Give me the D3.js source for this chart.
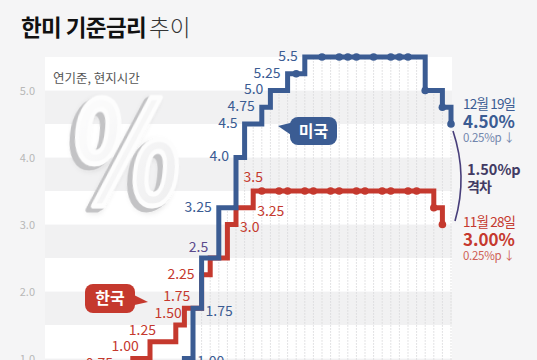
<!DOCTYPE html>
<html><head><meta charset="utf-8">
<script src="https://cdn.jsdelivr.net/npm/d3@7"></script>
<style>
body{margin:0;background:#f5f5f6;}
svg{display:block;}
text{font-family:"Noto Sans CJK KR","Noto Sans",sans-serif;}
</style>
</head><body>
<svg id="c" width="537" height="360"></svg>
<script>
// ---------- data ----------
const titleMain = "한미 기준금리";
const titleTail = "추이";
const noteText = "연기준, 현지시간";
const yTicks = [1.0, 2.0, 3.0, 4.0, 5.0];

// US federal funds rate (upper bound), decisions by month
const usDates = ["2021-01","2022-03","2022-05","2022-06","2022-07","2022-09","2022-11","2022-12",
                 "2023-02","2023-03","2023-05","2023-06","2023-07","2023-09","2023-11","2023-12",
                 "2024-01","2024-03","2024-05","2024-06","2024-07","2024-09","2024-11","2024-12"];
const usRates = [0.25,0.5,1.0,1.75,2.5,3.25,4.0,4.5,
                 4.75,5.0,5.25,5.25,5.5,5.5,5.5,5.5,
                 5.5,5.5,5.5,5.5,5.5,5.0,4.75,4.5];
// Korea base rate, decisions by month
const krDates = ["2021-01","2021-08","2021-11","2022-01","2022-04","2022-05","2022-07","2022-08","2022-10","2022-11",
                 "2023-01","2023-02","2023-04","2023-05","2023-07","2023-08","2023-10","2023-11",
                 "2024-01","2024-02","2024-04","2024-05","2024-07","2024-08","2024-10","2024-11"];
const krRates = [0.5,0.75,1.0,1.25,1.5,1.75,2.25,2.5,3.0,3.25,
                 3.5,3.5,3.5,3.5,3.5,3.5,3.5,3.5,
                 3.5,3.5,3.5,3.5,3.5,3.5,3.25,3.0];

const usStepLabels = ["1.00","1.75","3.25","4.0","4.5","4.75","5.0","5.25","5.5"];
const krStepLabels = ["0.75","1.00","1.25","1.50","1.75","2.25","3.0","3.25","3.5"];
const sharedLabel = "2.5";

const usLatest = {date:"12월 19일", rate:"4.50%", change:"0.25%p ↓"};
const krLatest = {date:"11월 28일", rate:"3.00%", change:"0.25%p ↓"};
const gapText = ["1.50%p", "격차"];
const usName = "미국", krName = "한국";

// ---------- style ----------
const BLUE = "#3b5c93", RED = "#c5392e", PURPLE = "#5b4a8c";
const usLabelPlace = {"1.00":"R","1.75":"R"};               // others: L
const krLabelPlace = {"0.75":"A","1.00":"A","1.25":"A","1.50":"A","1.75":"A",
                      "2.25":"L","3.0":"R","3.25":"R","3.5":"T"};

// ---------- setup ----------
const svg = d3.select("#c");
const W = 537, H = 360;
svg.append("rect").attr("width",W).attr("height",H).attr("fill","#f5f5f6");
const defs = svg.append("defs");

const mi = s => { const [Y,M] = s.split("-").map(Number); return (Y-2021)*12 + M - 1; };
const x = d3.scaleLinear().domain([0,47]).range([46.8,451]);
const y = d3.scaleLinear().domain([1,5.5]).range([358.5,57]);
const plotL = 45, plotR = 452;

const us = usDates.map((d,i)=>({m:mi(d), v:usRates[i]}));
const kr = krDates.map((d,i)=>({m:mi(d), v:krRates[i]}));
const valAt = (arr,m)=>{ let v=arr[0].v; for(const p of arr) if(p.m<=m) v=p.v; return v; };

// bands
const bandLows = d3.range(0.5, 5.5, 0.5);
svg.append("g").selectAll("rect").data(bandLows).join("rect")
  .attr("x",plotL).attr("width",plotR-plotL)
  .attr("y",d=>y(d+0.5)).attr("height",d=>y(d)-y(d+0.5))
  .attr("fill",d=>Number.isInteger(d) ? "#ffffff" : "#f1f1f2");

// vertical month grid (up to US line)
svg.append("g").selectAll("line").data(d3.range(0,48)).join("line")
  .attr("x1",m=>x(m)).attr("x2",m=>x(m))
  .attr("y1",y(0.4)).attr("y2",m=>y(valAt(us,m)))
  .attr("stroke","#d9d9db").attr("stroke-width",1).attr("stroke-dasharray","1.5,1.5");

// y axis
const ax = svg.append("g").attr("transform","translate(37,0)")
  .call(d3.axisLeft(y).tickValues(yTicks).tickFormat(d3.format(".1f")).tickSize(0).tickPadding(2));
ax.select(".domain").remove();
ax.selectAll("text").attr("fill","#b8b8b8").attr("font-size",11)
  .attr("font-family","'Noto Sans',sans-serif");

// note
svg.append("text").attr("x",53).attr("y",79).attr("dy","0.35em")
  .attr("font-size",12.5).attr("fill","#555").text(noteText);

// big percent sign (single text, 3D look from a filter)
const f = defs.append("filter").attr("id","ext").attr("x","-20%").attr("y","-20%").attr("width","140%").attr("height","140%");
const offs = [];
for (let k=1;k<=7;k++){
  f.append("feOffset").attr("in","SourceAlpha").attr("dx",-k*0.9).attr("dy",k*0.55).attr("result","o"+k);
  offs.push("o"+k);
}
const mg = f.append("feMerge").attr("result","depthA");
offs.forEach(o=>mg.append("feMergeNode").attr("in",o));
f.append("feFlood").attr("flood-color","#c3c3c5").attr("result","gray");
f.append("feComposite").attr("in","gray").attr("in2","depthA").attr("operator","in").attr("result","depth");
f.append("feGaussianBlur").attr("in","SourceAlpha").attr("stdDeviation",3).attr("result","blur");
f.append("feOffset").attr("in","blur").attr("dx",-4).attr("dy",4).attr("result","sh");
f.append("feFlood").attr("flood-color","#000").attr("flood-opacity",0.12).attr("result","shc");
f.append("feComposite").attr("in","shc").attr("in2","sh").attr("operator","in").attr("result","shadow");
const m2 = f.append("feMerge");
m2.append("feMergeNode").attr("in","shadow");
m2.append("feMergeNode").attr("in","depth");
m2.append("feMergeNode").attr("in","SourceGraphic");
const grad = defs.append("linearGradient").attr("id","pg").attr("x1",0).attr("y1",0).attr("x2",1).attr("y2",1);
grad.append("stop").attr("offset","0%").attr("stop-color","#ffffff");
grad.append("stop").attr("offset","100%").attr("stop-color","#ededee");
svg.append("text").attr("transform","translate(66,204) skewX(-6) scale(0.8,0.98)")
  .attr("font-family","'DejaVu Sans',sans-serif").attr("font-weight","bold").attr("font-size",144)
  .attr("fill","url(#pg)").attr("stroke","#fdfdfd").attr("stroke-width",5).attr("stroke-linejoin","round")
  .attr("filter","url(#ext)").text("%");

// lines
const line = d3.line().x(d=>x(d.m)).y(d=>y(d.v)).curve(d3.curveStepAfter);
function drawSeries(data,color){
  svg.append("path").datum(data).attr("d",line).attr("fill","none")
    .attr("stroke",color).attr("stroke-width",5).attr("stroke-linejoin","miter");
  const dots = data.filter((d,i)=> i>0 && d.v <= data[i-1].v);
  svg.append("g").selectAll("circle").data(dots).join("circle")
    .attr("cx",d=>x(d.m)).attr("cy",d=>y(d.v)).attr("r",3.8).attr("fill",color);
}
drawSeries(kr, RED);
drawSeries(us, BLUE);

// step labels
function stepLabels(data, labels, place, color){
  labels.forEach(lab=>{
    const v = +lab;
    const i = data.findIndex(d=>d.v===v);
    const d = data[i], nx = data[i+1] ? data[i+1].m : d.m+1;
    const p = place[lab] || "L";
    let tx, ty, anchor;
    if (p==="L"){ tx = x(d.m)-7; ty = y(v)-1; anchor="end"; }
    else if (p==="R"){ tx = x(nx)+4; ty = y(v)+3; anchor="start"; }
    else if (p==="A"){ tx = x(d.m)+6; ty = y(v)-12; anchor="end"; }
    else { tx = x(d.m); ty = y(v)-14; anchor="middle"; }
    svg.append("text").attr("x",tx).attr("y",ty).attr("dy","0.35em")
      .attr("text-anchor",anchor).attr("font-size",14).attr("fill",color).text(lab);
  });
}
stepLabels(us, usStepLabels, usLabelPlace, BLUE);
stepLabels(kr, krStepLabels, krLabelPlace, RED);
{
  const kd = kr.find(d=>d.v===+sharedLabel);
  svg.append("text").attr("x",x(kd.m)-2).attr("y",y(+sharedLabel)-11).attr("dy","0.35em")
    .attr("text-anchor","end").attr("font-size",14).attr("fill",PURPLE).text(sharedLabel);
}

// callouts
function callout(bx,by,bw,bh,tail,color,label){
  const g = svg.append("g");
  g.append("path").attr("d",tail).attr("fill",color);
  g.append("rect").attr("x",bx).attr("y",by).attr("width",bw).attr("height",bh).attr("rx",8).attr("fill",color);
  g.append("text").attr("x",bx+bw/2).attr("y",by+bh/2).attr("dy","0.36em").attr("text-anchor","middle")
    .attr("font-size",16).attr("font-weight","bold").attr("fill","#fff").text(label);
}
callout(290,117,47,28,"M278,126 L294,122 L294,137 Z",BLUE,usName);
callout(85,284,50,29,"M130,293 L148,302 L130,306 Z",RED,krName);

// right annotations
const ax0 = 463;
function latest(info, y0, color, light){
  svg.append("text").attr("x",ax0).attr("y",y0).attr("dy","0.35em").attr("font-size",13.5)
    .attr("letter-spacing",-0.8).attr("fill",color).text(info.date);
  svg.append("text").attr("x",ax0).attr("y",y0+18).attr("dy","0.35em").attr("font-size",17)
    .attr("font-weight","bold").attr("fill",color).text(info.rate);
  svg.append("text").attr("x",ax0).attr("y",y0+34).attr("dy","0.35em").attr("font-size",11.5)
    .attr("letter-spacing",-0.3).attr("fill",light).text(info.change);
}
latest(usLatest,104,BLUE,"#7286ad");
latest(krLatest,222,RED,"#cf5f57");

svg.append("path").attr("d","M453,131 Q468,176 455,221").attr("fill","none")
  .attr("stroke","#473e7a").attr("stroke-width",1.6);
svg.append("text").attr("x",467).attr("y",170).attr("dy","0.35em").attr("font-size",14.5)
  .attr("font-weight","bold").attr("fill","#423a63").text(gapText[0]);
svg.append("text").attr("x",467).attr("y",187).attr("dy","0.35em").attr("font-size",14)
  .attr("font-weight","bold").attr("letter-spacing",-1).attr("fill","#423a63").text(gapText[1]);

// title
const tt = svg.append("text").attr("x",21).attr("y",36).attr("font-size",22.5).attr("fill","#111");
tt.append("tspan").attr("font-weight","bold").attr("letter-spacing",-0.6).text(titleMain);
tt.append("tspan").attr("dx",3).attr("font-weight",300).attr("fill","#333").text(titleTail);
</script>
</body></html>
